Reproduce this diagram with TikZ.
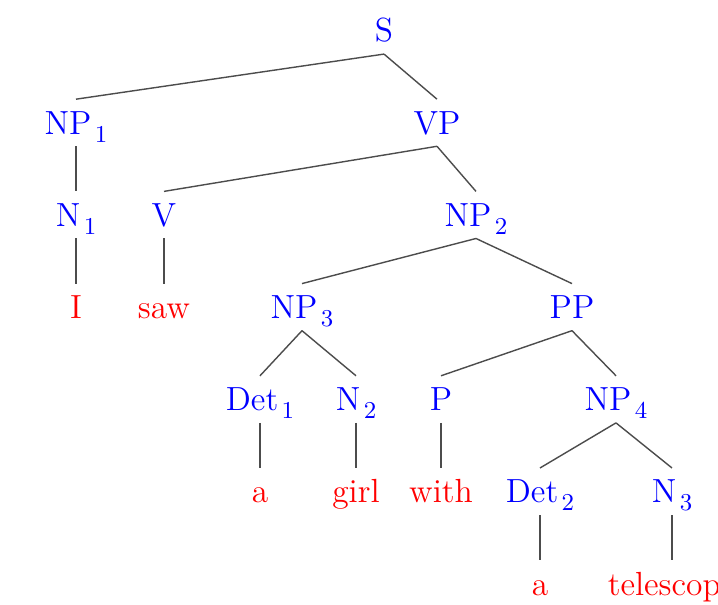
\documentclass[tikz,border=0pt]{standalone}
\usepackage{tikz}
\usetikzlibrary{positioning}
\newcommand{\ix}[1]{\kern1.2pt\raisebox{-2.8pt}{\fontsize{8.6}{9}\selectfont #1}}
\tikzstyle{edge} = [draw,line width=0.5pt,black!70]
\tikzset{
  treenode/.style = {anchor=base, inner xsep=0pt, inner ysep=4.1pt,
    text height=8.15pt, text depth=0pt, font=\fontsize{11.9}{14}\selectfont},
  cat/.style = {treenode, blue},% categorie
  word/.style = {treenode, red},% mot
}
\begin{document}
\begin{tikzpicture}[x=0.5cm,y=0.5cm]
                    \useasboundingbox (0,0) rectangle (17.95,15.125);
                    \node[cat] (S) at (9.6,14.075) {S};
                    \node[cat] (NP1) at (1.9,11.77) {NP\ix{1}};
                    \node[cat] (VP) at (10.925,11.77) {VP};
                    \node[cat] (N1) at (1.9,9.465) {N\ix{1}};
                    \node[cat] (V) at (4.1,9.465) {V};
                    \node[cat] (NP2) at (11.9,9.465) {NP\ix{2}};
                    \node[word] (I) at (1.9,7.16) {I};
                    \node[word] (saw) at (4.1,7.16) {saw};
                    \node[cat] (NP3) at (7.55,7.16) {NP\ix{3}};
                    \node[cat] (PP) at (14.3,7.16) {PP};
                    \node[cat] (Det1) at (6.5,4.855) {Det\ix{1}};
                    \node[cat] (N2) at (8.9,4.855) {N\ix{2}};
                    \node[cat] (P) at (11.025,4.855) {P};
                    \node[cat] (NP4) at (15.4,4.855) {NP\ix{4}};
                    \node[word] (a1) at (6.5,2.55) {a};
                    \node[word] (girl) at (8.9,2.55) {girl};
                    \node[word] (with) at (11.025,2.55) {with};
                    \node[cat] (Det2) at (13.5,2.55) {Det\ix{2}};
                    \node[cat] (N3) at (16.8,2.55) {N\ix{3}};
                    \node[word] (a2) at (13.5,0.245) {a};
                    \node[word] (telescope) at (16.8,0.245) {telescope};

                    \path[edge] (S.south) -- (NP1.north);
                    \path[edge] (S.south) -- (VP.north);
                    \path[edge] (NP1.south) -- (N1.north);
                    \path[edge] (N1.south) -- (I.north);
                    \path[edge] (VP.south) -- (V.north);
                    \path[edge] (VP.south) -- (NP2.north);
                    \path[edge] (V.south) -- (saw.north);
                    \path[edge] (NP2.south) -- (NP3.north);
                    \path[edge] (NP2.south) -- (PP.north);
                    \path[edge] (NP3.south) -- (Det1.north);
                    \path[edge] (NP3.south) -- (N2.north);
                    \path[edge] (Det1.south) -- (a1.north);
                    \path[edge] (N2.south) -- (girl.north);
                    \path[edge] (PP.south) -- (P.north);
                    \path[edge] (PP.south) -- (NP4.north);
                    \path[edge] (P.south) -- (with.north);
                    \path[edge] (NP4.south) -- (Det2.north);
                    \path[edge] (NP4.south) -- (N3.north);
                    \path[edge] (Det2.south) -- (a2.north);
                    \path[edge] (N3.south) -- (telescope.north);
                \end{tikzpicture}
\end{document}
